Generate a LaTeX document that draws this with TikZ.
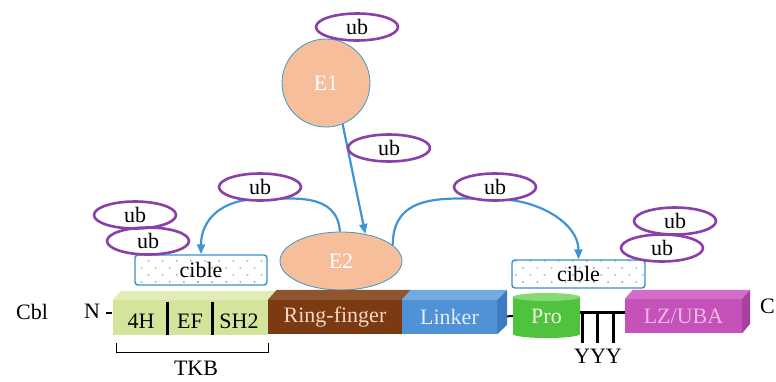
\documentclass[tikz,border=0pt]{standalone}
\usepackage{fontspec}
\setmainfont{Liberation Serif}
\usetikzlibrary{arrows.meta,patterns.meta,shapes.geometric}
\definecolor{ubpurple}{HTML}{8B3FA8}
\definecolor{arrblue}{HTML}{3E94D6}
\definecolor{peach}{HTML}{F6BE9A}
\definecolor{eborder}{HTML}{3A9AC0}
\definecolor{tkbgreen}{HTML}{D4E49A}
\definecolor{tkbtop}{HTML}{E2ECB6}
\definecolor{rfbrown}{HTML}{7B3A12}
\definecolor{rftop}{HTML}{8E5530}
\definecolor{rftext}{HTML}{F5D8C4}
\definecolor{linkblue}{HTML}{4F92D6}
\definecolor{linktop}{HTML}{72AAE2}
\definecolor{linkside}{HTML}{3B7DC0}
\definecolor{linktext}{HTML}{E4EEF8}
\definecolor{progreen}{HTML}{4FC23E}
\definecolor{protop}{HTML}{86DA72}
\definecolor{protext}{HTML}{F2F6E0}
\definecolor{lzmag}{HTML}{C452B8}
\definecolor{lztop}{HTML}{D26EC8}
\definecolor{lzside}{HTML}{A9409F}
\definecolor{lztext}{HTML}{EEB8E6}
\definecolor{cibleborder}{HTML}{3A8FC8}
\definecolor{cibledot}{HTML}{8DBFE6}
\pgfdeclarelayer{bg}
\pgfsetlayers{bg,main}
\begin{document}
\begin{tikzpicture}[x=1pt,y=-1pt,
  font=\fontsize{22}{26}\selectfont,
  ubnode/.style={ellipse, draw=ubpurple, line width=2.6pt, minimum width=82pt, minimum height=27pt, inner sep=0pt},
  enzyme/.style={fill=peach, draw=eborder, line width=0.8pt, text=white, inner sep=0pt},
  ciblebox/.style={rectangle, rounded corners=3pt, draw=cibleborder, line width=1.4pt,
     pattern={Dots[distance=10pt,radius=1.1pt,angle=45]}, pattern color=cibledot, inner sep=0pt},
  dombox/.style={rectangle, inner sep=0pt},
  arr/.style={draw=arrblue, line width=2.2pt, -{Triangle[length=10pt,width=8pt]}},
  comb/.style={line width=3pt, line cap=butt}
]
\useasboundingbox (0,0) rectangle (776,381);

% enzymes
\node[enzyme, circle, minimum size=88pt] (E1) at (326,83) {E1};
\node[enzyme, ellipse, minimum width=122pt, minimum height=58pt] (E2) at (341,261) {E2};

% targets
\node[ciblebox, minimum width=132pt, minimum height=30pt] (cibleL) at (201,270) {cible};
\node[ciblebox, minimum width=133pt, minimum height=28pt] (cibleR) at (578.5,274) {cible};

% domains (front faces)
\node[dombox, fill=tkbgreen, minimum width=155pt, minimum height=35pt] (tkb) at (190.5,317.5) {};
\node[dombox, fill=rfbrown, text=rftext, minimum width=134pt, minimum height=34pt] (ring) at (335,317) {Ring-finger};
\node[dombox, fill=linkblue, text=linktext, minimum width=95pt, minimum height=34pt] (linker) at (449.5,317) {Linker};
\node[dombox, minimum width=67pt, minimum height=40pt] (pro) at (546.5,316) {};
\node[dombox, fill=lzmag, text=lztext, minimum width=117pt, minimum height=34pt] (lz) at (683.5,316) {LZ/UBA};

% connecting line linker - pro and comb
\begin{pgfonlayer}{bg}
\draw[line width=2pt] (linker.east) -- (pro.west);
\end{pgfonlayer}
\draw[comb] ([yshift=4pt]pro.east) -- ([yshift=4pt]lz.west);
\draw[comb] (582,311) -- (582,343);
\draw[comb] (597.5,311) -- (597.5,343);
\draw[comb] (613,311) -- (613,343);
\node (yyy) at (598,356) {YYY};

% 3D faces
\fill[tkbtop] (tkb.north west) -- ++(8,-9) -- ([shift={(8,-9)}]tkb.north east) -- (tkb.north east) -- cycle;
\fill[rftop] (ring.north west) -- ++(9,-10) -- ([shift={(9,-10)}]ring.north east) -- (ring.north east) -- cycle;
\fill[linktop] (linker.north west) -- ++(9,-10) -- ([shift={(10,-10)}]linker.north east) -- (linker.north east) -- cycle;
\fill[linkside] (linker.north east) -- ++(10,-10) -- ++(0,35) -- (linker.south east) -- cycle;
\fill[lztop] (lz.north west) -- ++(8,-9) -- ([shift={(8,-9)}]lz.north east) -- (lz.north east) -- cycle;
\fill[lzside] (lz.north east) -- ++(8,-9) -- ++(0,34) -- (lz.south east) -- cycle;

% Pro cylinder
\fill[progreen] (513,297) rectangle (580,334);
\fill[progreen] (546.5,334) ellipse [x radius=33.5, y radius=4];
\fill[protop] (546.5,297) ellipse [x radius=33.5, y radius=4];
\node[text=protext] (protext) at (pro) {Pro};

% TKB labels and separators
\node (t4H) at (141,321) {4H};
\node (tEF) at (190,321) {EF};
\node (tSH2) at (239,321) {SH2};
\draw[line width=3pt] (167,302) -- (167,335);
\draw[line width=3pt] (212,302) -- (212,335);
\draw[line width=1pt] (116,343) -- (116,352) -- (268,352) -- (268,343);
\node (tkblabel) at (196,368) {TKB};

% ends
\node (cbl) at (32,312) {Cbl};
\node (nterm) at (92,311) {N};
\draw[line width=2pt] (106,313) -- (112,313);
\node (cterm) at (767.5,306) {C};

% arrows
\draw[arr] (E1.-68) -- (E2.48);
\node[ubnode] (ub1) at (357,27) {ub};
\node[ubnode] (ub2) at (389,148) {ub};

\draw[arr] (E2.92) .. controls +(-3,-40) and +(32,0) .. (260,199) .. controls +(-38,0) and +(0,-35) .. (cibleL.north);
\draw[arr] (E2.17) .. controls +(0,-55) and +(-45,0) .. (495,199) .. controls +(45,0) and +(0,-35) .. (cibleR.north);

\node[ubnode, fill=white] (ub3) at (260,187) {ub};
\node[ubnode, fill=white] (ub4) at (495,187) {ub};

\node[ubnode] (ubL1) at (135,215) {ub};
\node[ubnode] (ubL2) at (148,241) {ub};
\node[ubnode] (ubR1) at (675,221) {ub};
\node[ubnode] (ubR2) at (662,248) {ub};
\end{tikzpicture}
\end{document}
